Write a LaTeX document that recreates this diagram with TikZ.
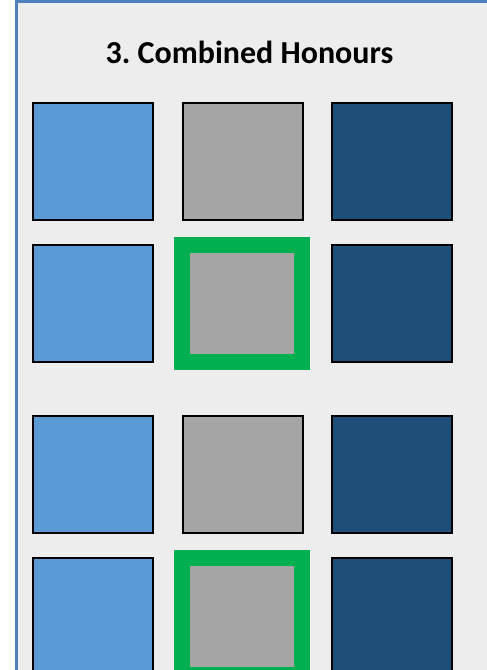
\documentclass[tikz,border=0pt]{standalone}
\usepackage{fontspec}
\setmainfont{Carlito}
\usepackage{tikz}
\usetikzlibrary{positioning}
\frenchspacing
\definecolor{panelgrey}{RGB}{237, 237, 237}
\definecolor{panelblue}{RGB}{79, 129, 189}
\definecolor{lightblue}{RGB}{91, 155, 213}
\definecolor{midgrey}{RGB}{165, 165, 165}
\definecolor{darkblue}{RGB}{31, 78, 121}
\definecolor{pickgreen}{RGB}{0, 176, 80}
\tikzset{
  tile/.style={draw=black, line width=2pt, minimum width=120pt, minimum height=117pt, inner sep=0pt, outer sep=0pt},
  picked/.style={tile, draw=pickgreen, line width=16pt, fill=midgrey}
}

\begin{document}
\begin{tikzpicture}[x=1pt, y=-1pt]
  \useasboundingbox (0,0) rectangle (487,670);
  \clip (0,0) rectangle (487,670);
  % panel
  \fill[white] (0,0) rectangle (487,670);
  \draw[draw=panelblue, fill=panelgrey, line width=3pt] (16.5,1.5) rectangle (520,700);
  \node[font=\bfseries\fontsize{32}{38}\selectfont, anchor=base, inner sep=0pt] (title) at (249.5,63) {3. Combined Honours};

  % top pair of rows
  \node[tile, fill=lightblue] (lb1) at (93,161) {};
  \node[tile, fill=midgrey] (gr1) at (242.5,161) {};
  \node[tile, fill=darkblue] (db1) at (391.5,161) {};
  \node[tile, fill=lightblue] (lb2) at (93,303.5) {};
  \node[picked] (gr2) at (242,303.5) {};
  \node[tile, fill=darkblue] (db2) at (391.5,303.5) {};

  % bottom pair of rows
  \node[tile, fill=lightblue] (lb3) at (93,474) {};
  \node[tile, fill=midgrey] (gr3) at (242.5,474) {};
  \node[tile, fill=darkblue] (db3) at (391.5,474) {};
  \node[tile, fill=lightblue] (lb4) at (93,616.5) {};
  \node[picked] (gr4) at (242,616.5) {};
  \node[tile, fill=darkblue] (db4) at (391.5,616.5) {};
\end{tikzpicture}
\end{document}
